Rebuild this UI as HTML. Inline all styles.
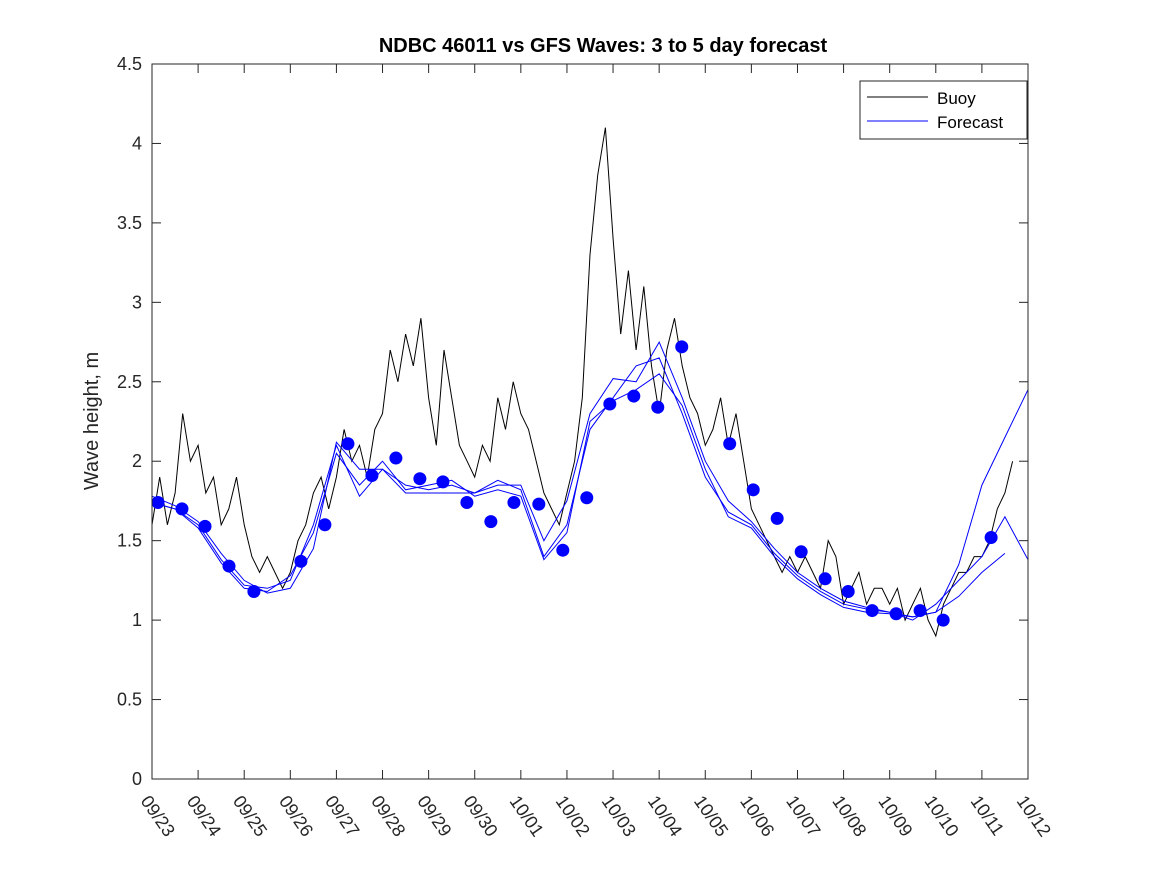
<!DOCTYPE html>
<html><head><meta charset="utf-8"><style>
body{margin:0;background:#fff;}
svg{display:block;font-family:"Liberation Sans","DejaVu Sans",sans-serif;}
</style></head><body>
<svg id="chart" width="1167" height="875"></svg>
<script>
const dateLabels=["09/23","09/24","09/25","09/26","09/27","09/28","09/29","09/30","10/01","10/02","10/03","10/04","10/05","10/06","10/07","10/08","10/09","10/10","10/11","10/12"];
const yTicks=[0,0.5,1,1.5,2,2.5,3,3.5,4,4.5];
// buoy: 6 samples per day starting 09/23
const buoyValues=[1.6,1.9,1.6,1.8,2.3,2.0, 2.1,1.8,1.9,1.6,1.7,1.9, 1.6,1.4,1.3,1.4,1.3,1.2, 1.3,1.5,1.6,1.8,1.9,1.7, 1.9,2.2,2.0,2.1,1.9,2.2, 2.3,2.7,2.5,2.8,2.6,2.9, 2.4,2.1,2.7,2.4,2.1,2.0, 1.9,2.1,2.0,2.4,2.2,2.5, 2.3,2.2,2.0,1.8,1.7,1.6, 1.8,2.0,2.4,3.3,3.8,4.1, 3.4,2.8,3.2,2.7,3.1,2.6, 2.3,2.7,2.9,2.6,2.4,2.3, 2.1,2.2,2.4,2.1,2.3,2.0, 1.7,1.6,1.5,1.4,1.3,1.4, 1.3,1.4,1.3,1.2,1.5,1.4, 1.1,1.2,1.3,1.1,1.2,1.2, 1.1,1.2,1.0,1.1,1.2,1.0, 0.9,1.1,1.2,1.3,1.3,1.4, 1.4,1.5,1.7,1.8,2.0];
// forecast series, half-day steps from day 0
const fcA=[1.78,1.72,1.62,1.42,1.25,1.17,1.2,1.45,2.12,1.95,1.95,1.85,1.82,1.85,1.8,1.85,1.85,1.5,1.75,2.3,2.52,2.5,2.75,2.4,2.0,1.75,1.62,1.45,1.3,1.2,1.12,1.08,1.05,1.02,1.05,1.35,1.85,2.15,2.45];
const fcB=[1.74,1.7,1.6,1.38,1.22,1.2,1.25,1.6,2.1,1.78,1.95,1.8,1.8,1.8,1.8,1.88,1.82,1.4,1.6,2.2,2.4,2.6,2.65,2.3,1.9,1.68,1.6,1.42,1.28,1.18,1.1,1.07,1.05,1.0,1.1,1.25,1.4,1.65,1.38];
const fcC=[1.74,1.7,1.58,1.36,1.2,1.18,1.28,1.55,2.05,1.85,2.0,1.82,1.85,1.88,1.78,1.82,1.78,1.38,1.55,2.25,2.38,2.45,2.55,2.35,1.95,1.65,1.58,1.4,1.26,1.16,1.08,1.05,1.04,1.02,1.05,1.15,1.3,1.42];
const dotDays=[0.13,0.65,1.15,1.67,2.21,3.23,3.75,4.25,4.77,5.29,5.81,6.31,6.83,7.35,7.85,8.39,8.91,9.43,9.93,10.45,10.97,11.49,12.53,13.04,13.56,14.08,14.6,15.1,15.62,16.14,16.66,17.16,18.2];
const dotValues=[1.74,1.70,1.59,1.34,1.18,1.37,1.60,2.11,1.91,2.02,1.89,1.87,1.74,1.62,1.74,1.73,1.44,1.77,2.36,2.41,2.34,2.72,2.11,1.82,1.64,1.43,1.26,1.18,1.06,1.04,1.06,1.00,1.52];

const L=152,R=1028,T=64,B=779;
const xs=d=>L+d*(R-L)/19;
const ys=v=>B-v*(B-T)/4.5;
const NS="http://www.w3.org/2000/svg";
const svg=document.getElementById('chart');
function mk(tag,attrs,parent){const e=document.createElementNS(NS,tag);for(const k in attrs)e.setAttribute(k,attrs[k]);(parent||svg).appendChild(e);return e;}

const title=mk('text',{x:603,y:52,'text-anchor':'middle','font-size':20,'font-weight':'bold',fill:'#000'});
title.textContent='NDBC 46011 vs GFS Waves: 3 to 5 day forecast';



const ylab=mk('text',{transform:'translate(98,421) rotate(-90)','text-anchor':'middle','font-size':20,fill:'#262626'});
ylab.textContent='Wave height, m';



yTicks.forEach(v=>{
  const y=ys(v);
  mk('line',{x1:L,x2:L+9,y1:y,y2:y,stroke:'#262626'});
  mk('line',{x1:R,x2:R-9,y1:y,y2:y,stroke:'#262626'});
  const t=mk('text',{x:L-10,y:y+6,'text-anchor':'end','font-size':18,fill:'#262626'});
  t.textContent=String(v);
  
  
});
dateLabels.forEach((d,i)=>{
  const x=xs(i);
  mk('line',{x1:x,x2:x,y1:B,y2:B-9,stroke:'#262626'});
  mk('line',{x1:x,x2:x,y1:T,y2:T+9,stroke:'#262626'});
  const t=mk('text',{transform:`translate(${x-12},${B+22}) rotate(55)`,'font-size':18,fill:'#262626'});
  t.textContent=d;
  
  
});

function poly(vals,step,color,name){
  const pts=vals.map((v,i)=>xs(i*step).toFixed(1)+','+ys(v).toFixed(1)).join(' ');
  const p=mk('polyline',{points:pts,fill:'none',stroke:color,'stroke-width':1});
  
  
}
poly(buoyValues,1/6,'#000','buoy-line');
poly(fcA,0.5,'#0000ff','forecast-line-a');
poly(fcB,0.5,'#0000ff','forecast-line-b');
poly(fcC,0.5,'#0000ff','forecast-line-c');
dotDays.forEach((d,i)=>{
  const c=mk('circle',{cx:xs(d),cy:ys(dotValues[i]),r:6.5,fill:'#0000ff'});
  
  
});

const frame=mk('rect',{x:L,y:T,width:R-L,height:B-T,fill:'none',stroke:'#262626'});



const lg=mk('g',{});


mk('rect',{x:860,y:81,width:167,height:58,fill:'#fff',stroke:'#262626'},lg);
mk('line',{x1:867,x2:928,y1:97,y2:97,stroke:'#000'},lg);
mk('line',{x1:867,x2:928,y1:121,y2:121,stroke:'#0000ff'},lg);
const l1=mk('text',{x:937,y:104,'font-size':17,fill:'#000'},lg);l1.textContent='Buoy';


const l2=mk('text',{x:937,y:128,'font-size':17,fill:'#000'},lg);l2.textContent='Forecast';


</script>
</body></html>
